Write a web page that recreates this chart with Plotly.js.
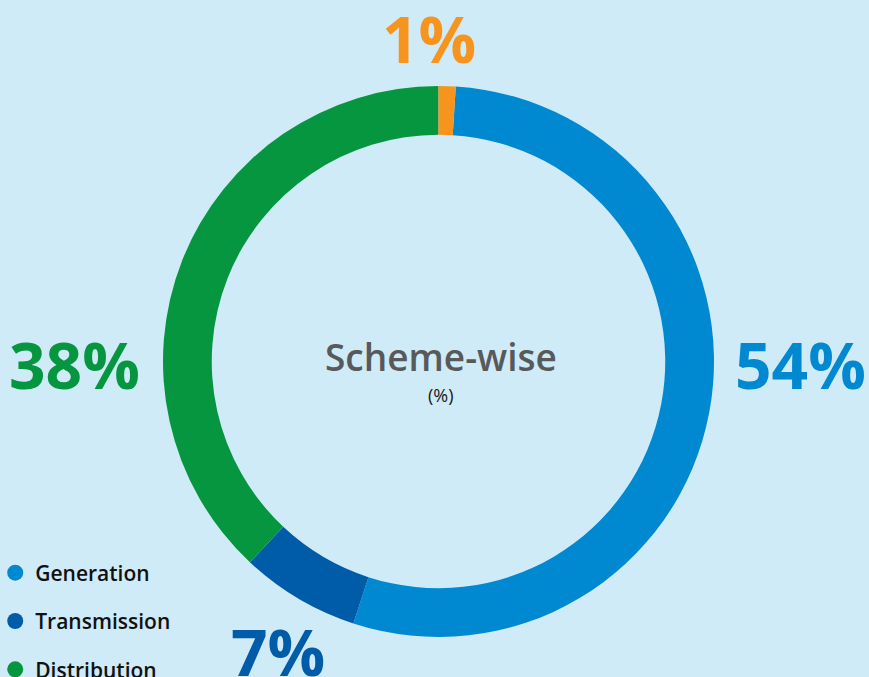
<!DOCTYPE html>
<html>
<head>
<meta charset="utf-8">
<script src="https://cdn.plot.ly/plotly-3.0.1.min.js"></script>
<style>
  html, body { margin: 0; padding: 0; background: #cfebf7; }
  #chart { width: 869px; height: 677px; }
</style>
</head>
<body>
<div id="chart"></div>
<script>
// scheme-wise share, in %
const categories = ['Generation', 'Transmission', 'Distribution', 'Others'];
const shares = [54, 7, 38, 1];
const colors = ['#0088d0', '#005ca9', '#05963f', '#f7941d'];
const inLegend = [true, true, true, false];
// where each big % label sits, in paper coords
const labelPos = [[0.9217, 0.4609], [0.3199, 0.0384], [0.0863, 0.4609], [0.4937, 0.943]];

const pie = {
  type: 'pie',
  labels: categories,
  values: shares,
  sort: false,
  direction: 'clockwise',
  rotation: 3.6,
  hole: 0.823,
  domain: {x: [0.1841, 0.8251], y: [0.0591, 0.873]},
  marker: {colors: colors, line: {width: 0}},
  textinfo: 'none',
  showlegend: false,
  hoverinfo: 'label+percent'
};

// legend entries drawn as round dots, one group each so the gap can be set
var legendTraces = [];
for (var i = 0; i < categories.length; i++) {
  if (!inLegend[i]) continue;
  legendTraces.push({
    type: 'scatter',
    mode: 'markers',
    x: [null], y: [null],
    name: categories[i],
    legendgroup: categories[i],
    marker: {symbol: 'circle', size: 16, color: colors[i]},
    hoverinfo: 'skip'
  });
}

var annotations = [{
  x: 0.5075, y: 0.4727, xref: 'paper', yref: 'paper', showarrow: false,
  text: 'Scheme-wise',
  font: {family: 'Open Sans', size: 37, weight: 600, color: '#58595b'}
}, {
  x: 0.5075, y: 0.4164, xref: 'paper', yref: 'paper', showarrow: false,
  text: '(%)',
  font: {family: 'Open Sans', size: 18, color: '#1a1a1a'}
}];
for (var j = 0; j < categories.length; j++) {
  annotations.push({
    x: labelPos[j][0], y: labelPos[j][1], xref: 'paper', yref: 'paper',
    xanchor: 'center', yanchor: 'middle', showarrow: false,
    text: shares[j] + '%',
    font: {family: 'Open Sans', size: 64, weight: 700, color: colors[j]}
  });
}

const layout = {
  width: 869,
  height: 677,
  margin: {l: 0, r: 0, t: 0, b: 0, autoexpand: false},
  paper_bgcolor: '#cfebf7',
  plot_bgcolor: '#cfebf7',
  xaxis: {visible: false},
  yaxis: {visible: false},
  showlegend: true,
  legend: {
    x: -0.0055, xanchor: 'left',
    y: 0.1838, yanchor: 'top',
    bgcolor: 'rgba(0,0,0,0)',
    tracegroupgap: 18,
    font: {family: 'Open Sans', size: 21, weight: 600, color: '#111111'}
  },
  annotations: annotations
};

Plotly.newPlot('chart', [pie].concat(legendTraces), layout, {displayModeBar: false});
</script>
</body>
</html>
